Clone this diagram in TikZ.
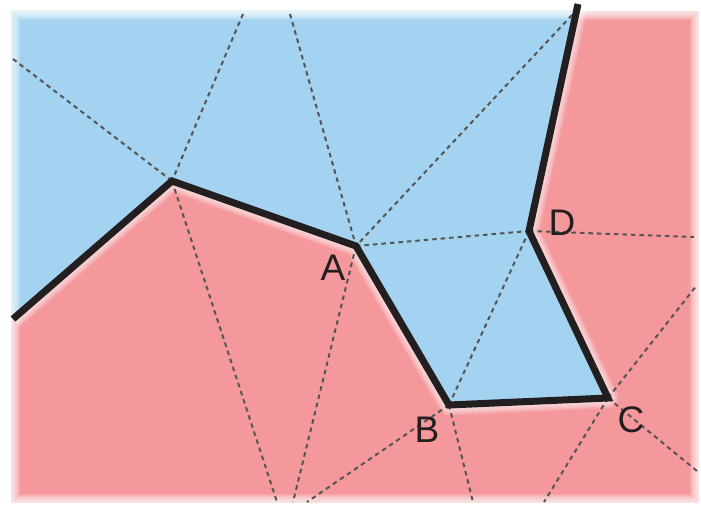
\documentclass[tikz,border=0pt]{standalone}
\usepackage{fontspec}
\setmainfont{Liberation Sans}
\definecolor{bluec}{RGB}{163,211,240}
\definecolor{redc}{RGB}{244,152,156}
\definecolor{linec}{RGB}{35,31,32}
\definecolor{dashc}{RGB}{85,85,85}
\tikzset{
  thickline/.style={draw=linec,line width=7pt,line join=miter},
  dashline/.style={draw=dashc,line width=2pt,dash pattern=on 4.5pt off 4pt},
  glow/.style={draw=white,opacity=0.12,line join=round},
  fade/.style={draw=white,opacity=0.14},
  lbl/.style={font=\fontsize{37}{37}\selectfont,text=linec,inner sep=0pt}
}
\begin{document}
\begin{tikzpicture}[x=1pt,y=-1pt]
\useasboundingbox (0,0) rectangle (701,513);
\coordinate (P0) at (13,319);
\coordinate (P1) at (172,181);
\coordinate (A) at (356,246);
\coordinate (B) at (449,405);
\coordinate (C) at (608,398);
\coordinate (D) at (529,231);
\coordinate (T) at (578,4);
% dashed free ends
\coordinate (e1) at (13,59);
\coordinate (e2) at (243,14);
\coordinate (e3) at (290,14);
\coordinate (e4) at (572,15);
\coordinate (e5) at (694,237);
\coordinate (e6) at (277,502);
\coordinate (e7) at (293,502);
\coordinate (e8) at (307,502);
\coordinate (e9) at (473,502);
\coordinate (e10) at (697,285);
\coordinate (e11) at (544,502);
\coordinate (e12) at (697,471);
\begin{scope}
  \clip (11,11) rectangle (699,503);
  \fill[redc] (11,11) rectangle (699,503);
  \foreach \w in {9,11,13,15,17,19,21}
    \draw[glow,line width=\w pt] (P0) -- (P1) -- (A) -- (B) -- (C) -- (D) -- (T);
  \fill[bluec] (0,0) -- (579,0) -- (T) -- (D) -- (C) -- (B) -- (A) -- (P1) -- (P0) -- (0,330) -- cycle;
\end{scope}
\foreach \w in {2,4,6,8,10,12,14,16,18}
  \draw[fade,line width=\w pt] (11,11) rectangle (699,503);
% dashed triangulation
\draw[dashline] (e1) -- (P1);
\draw[dashline] (e2) -- (P1);
\draw[dashline] (e3) -- (A);
\draw[dashline] (e4) -- (A);
\draw[dashline] (A) -- (D);
\draw[dashline] (D) -- (e5);
\draw[dashline] (D) -- (B);
\draw[dashline] (P1) -- (e6);
\draw[dashline] (A) -- (e7);
\draw[dashline] (B) -- (e8);
\draw[dashline] (B) -- (e9);
\draw[dashline] (C) -- (e10);
\draw[dashline] (C) -- (e11);
\draw[dashline] (C) -- (e12);
% boundary
\draw[thickline] (P0) -- (P1) -- (A) -- (B) -- (C) -- (D) -- (T);
% labels
\node[lbl] (la) at (333,268) {A};
\node[lbl] (lb) at (427,430) {B};
\node[lbl] (lc) at (631,420) {C};
\node[lbl] (ld) at (562,223) {D};
\end{tikzpicture}
\end{document}
